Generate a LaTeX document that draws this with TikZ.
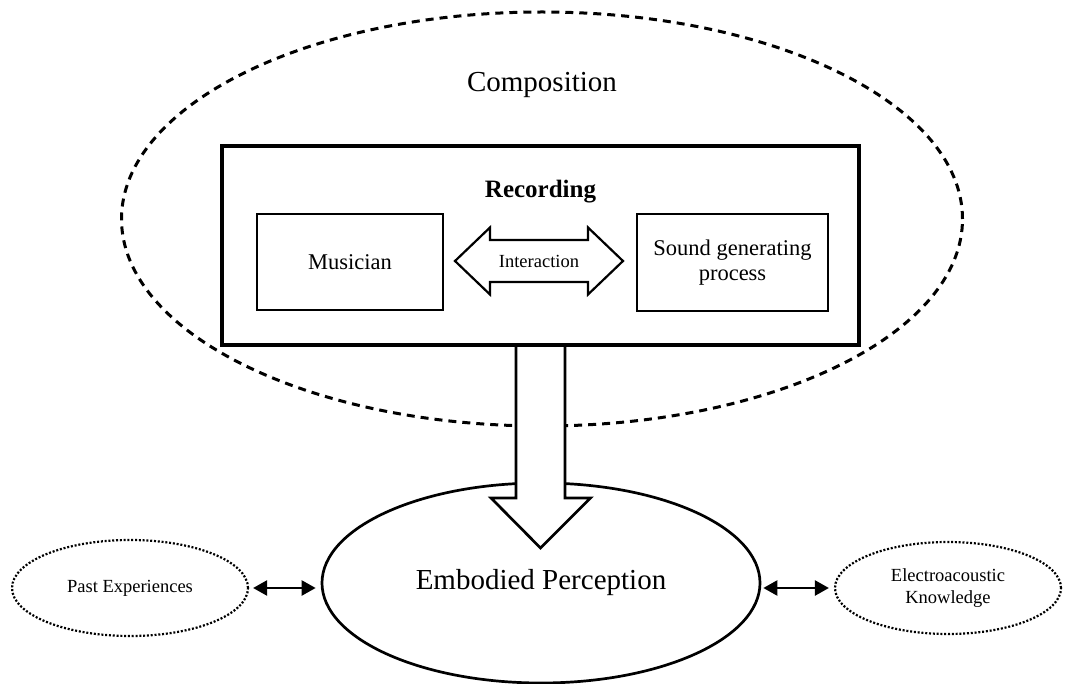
\documentclass[tikz,border=0pt]{standalone}
\usepackage{fontspec}
\setmainfont{Liberation Serif}
\usetikzlibrary{shapes, arrows.meta, positioning, calc}
\tikzset{
  big_font/.style = {font=\fontsize{29}{34}\selectfont},
  title_font/.style = {font=\fontsize{25}{30}\selectfont\bfseries},
  mid_font/.style = {font=\fontsize{22.5}{25}\selectfont},
  small_font/.style = {font=\fontsize{18.5}{22}\selectfont}
}
\tikzset{
  scene/.style = {draw, ellipse, dash pattern=on 8pt off 6pt, line width=3pt, inner sep=0},
  frame/.style = {draw, line width=3.5pt, inner sep=0},
  box/.style = {draw, line width=2pt, mid_font, align=center, inner sep=0},
  hub/.style = {draw, ellipse, line width=2.7pt, big_font, inner sep=0},
  side/.style = {draw, ellipse, dash pattern=on 2pt off 1.8pt, line width=2.2pt, small_font, align=center, inner sep=0},
  block_arrow/.style = {draw, fill=white, line width=2.2pt, line join=miter},
  link/.style = {{Triangle[length=14pt,width=15pt]}-{Triangle[length=14pt,width=15pt]}, line width=2.4pt}
}

\begin{document}
\begin{tikzpicture}[x=1pt, y=-1pt]
        \useasboundingbox (0,0) rectangle (1068,684);

        % Composition
        \node[scene, minimum width=841pt, minimum height=414pt] (comp) at (542,219) {};
        \node[big_font, anchor=base] (comp_title) at (542,92) {Composition};

        % Perception
        \node[hub, minimum width=438pt, minimum height=200pt] (emb) at (541,583) {Embodied Perception};
        \node[side, minimum width=236pt, minimum height=96pt] (past) at (130,588) {Past Experiences};
        \node[side, minimum width=226pt, minimum height=92pt] (know) at (948,588) {Electroacoustic\\Knowledge};

        % Recording
        \coordinate (drop) at (540.5,345);
        \draw[block_arrow, line width=2.7pt] ($(drop)+(-24.5,0)$) -- ++(0,153) -- ++(-25,0)
            -- ($(drop)+(0,203)$) -- ($(drop)+(50,153)$) -- ++(-25.5,0) -- ($(drop)+(24.5,0)$);
        \node[frame, minimum width=637pt, minimum height=199pt] (rec) at (540.5,245.5) {};
        \node[title_font, anchor=base] (rec_title) at (540.5,198) {Recording};

        \node[box, minimum width=186pt, minimum height=96pt] (mus) at (350,262) {Musician};
        \node[box, minimum width=191pt, minimum height=97pt] (snd) at (732.5,263) {Sound generating\\process};

        \coordinate (mid) at (539,261);
        \draw[block_arrow] ($(mid)+(-84,0)$) -- ++(35,-33.5) -- ++(0,12.5) -- ++(98,0) -- ++(0,-12.5)
            -- ($(mid)+(84,0)$) -- ++(-35,33.5) -- ++(0,-12.5) -- ++(-98,0) -- ++(0,12.5) -- cycle;
        \node[small_font] (inter) at (mid) {Interaction};

        % Arrows
        \draw[link, shorten <=4pt, shorten >=5pt] (past.east) -- (past.east -| emb.west);
        \draw[link, shorten <=2pt, shorten >=5pt] (know.west -| emb.east) -- (know.west);
\end{tikzpicture}
\end{document}
